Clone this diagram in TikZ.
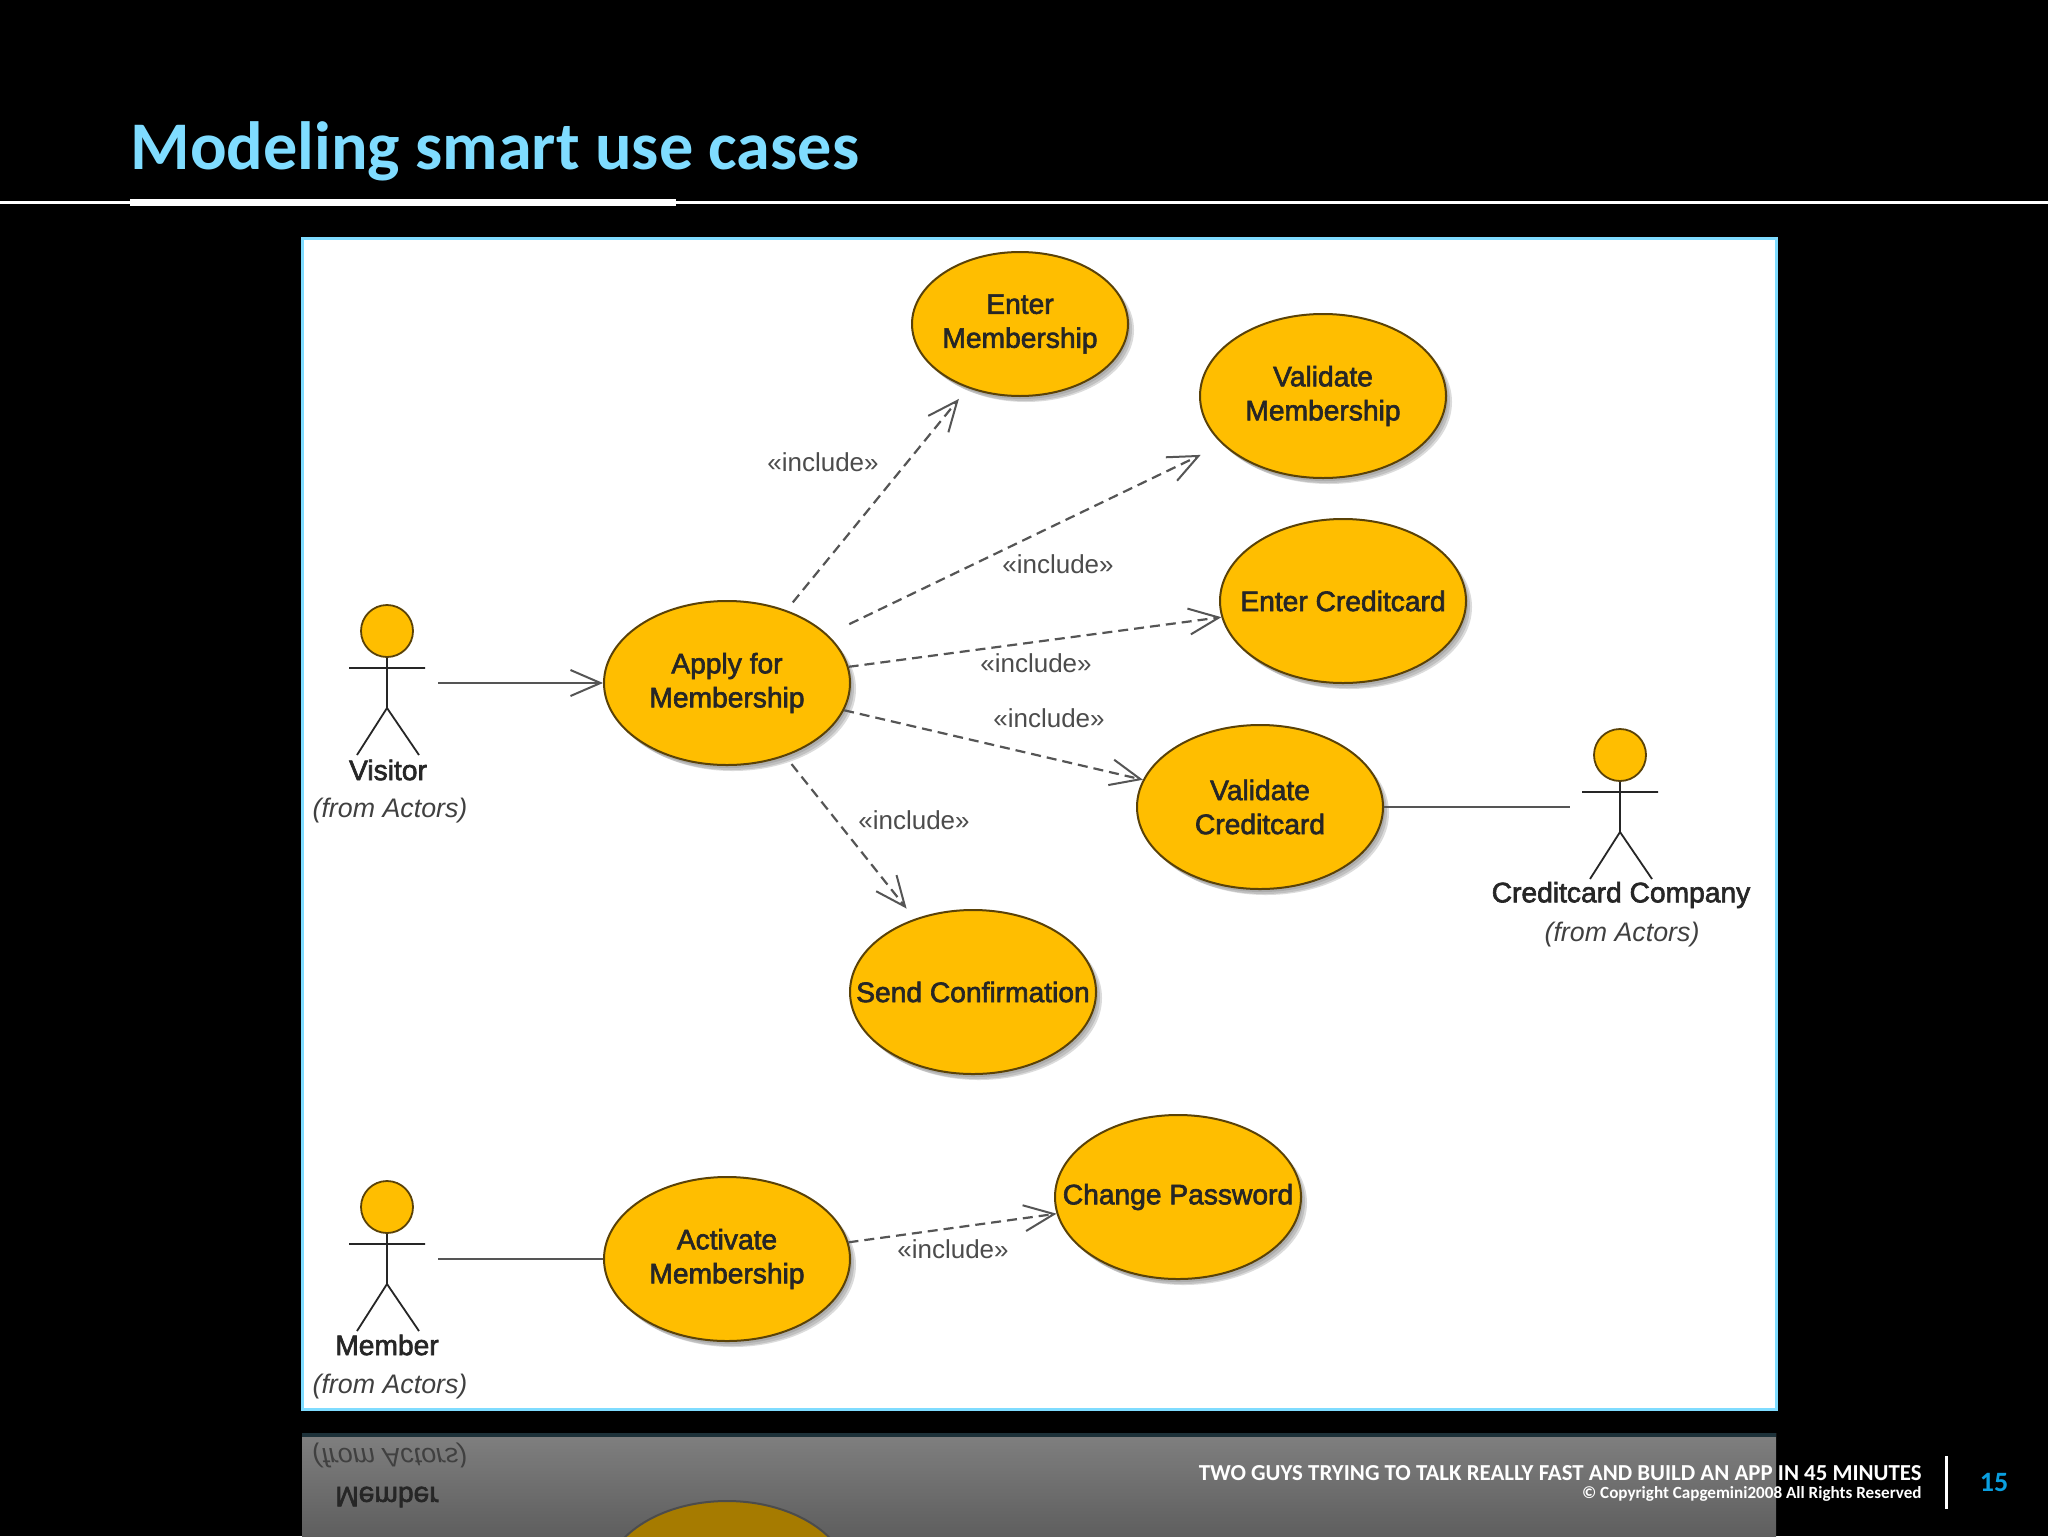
\documentclass[tikz,border=0pt]{standalone}
\usepackage{fontspec}
\setmainfont{Carlito}
\newfontfamily\umlfont[FakeBold=2.2]{Liberation Sans}
\newfontfamily\umlthin{Liberation Sans}
\usetikzlibrary{shapes.geometric,arrows.meta,shadows,calc}
\definecolor{ucfill}{HTML}{FFBE00}
\definecolor{ucline}{HTML}{5A4208}
\definecolor{frameblue}{HTML}{7FDCFF}
\definecolor{conn}{HTML}{555555}
\definecolor{pagenum}{HTML}{0A9FE0}
\newcommand{\oneline}[1]{\makebox[0pt][c]{#1}}
\tikzset{
  x=0.5pt,y=-0.5pt,
  softshadow/.style={
    general shadow={fill=black,draw=none,opacity=.10,shadow xshift=1pt,shadow yshift=-1.5pt},
    general shadow={fill=black,draw=none,opacity=.12,shadow xshift=2pt,shadow yshift=-2.5pt},
    general shadow={fill=black,draw=none,opacity=.14,shadow xshift=3pt,shadow yshift=-3pt}},
  usecase/.style={ellipse,draw=ucline,fill=ucfill,line width=1pt,inner sep=0pt,align=center,
    font=\umlfont\fontsize{14.1}{17}\selectfont,text=black!85,softshadow},
  smallcase/.style={usecase,minimum width=108pt,minimum height=72pt},
  bigcase/.style={usecase,minimum width=123pt,minimum height=82pt},
  stick/.style={draw=black!85,line width=0.9pt},
  actorhead/.style={circle,draw=ucline,fill=ucfill,line width=0.9pt,minimum size=26pt,inner sep=0pt},
  actor/.pic={
    \node[actorhead] (-head) at (0,0) {};
    \draw[stick] (-head.south) -- (0,77) (-38,37) -- (38,37) (-30,124) -- (0,77) -- (32,124);
  },
  actorname/.style={font=\umlfont\fontsize{14.1}{16}\selectfont,text=black!85,inner sep=0pt},
  actorfrom/.style={font=\umlthin\itshape\fontsize{13.4}{16}\selectfont,text=black!75,inner sep=0pt},
  inclabel/.style={font=\umlthin\fontsize{13}{16}\selectfont,text=black!70,inner sep=0pt},
  assoc/.style={draw=conn,line width=1.1pt},
  arrowassoc/.style={assoc,-{Straight Barb[length=15pt,width=13pt,line width=1pt]}},
  includes/.style={arrowassoc,dash pattern=on 5pt off 3pt},
}
\begin{document}
\begin{tikzpicture}
\fill[black] (0,0) rectangle (2048,1536);
% title and rules
\node[anchor=west,inner sep=0pt,text=frameblue,font=\bfseries\fontsize{34.1}{36}\selectfont] (title) at (130,151) {Modeling smart use cases};
\fill[white] (0,201) rectangle (2048,204);
\fill[white] (130,199) rectangle (676,206);
% picture
\draw[frameblue,line width=1.5pt,fill=white] (302,238) rectangle (1776,1409);
% reflection
\begin{scope}
  \clip (302,1433) rectangle (1776,1536);
  \shade[top color=black!50,bottom color=black!63] (302,1433) rectangle (1776,1536);
  \fill[black!68!frameblue!70!black] (302,1433) rectangle (1776,1437);
  \begin{scope}[shift={(0,2842)},yscale=-1]
    \node[ellipse,draw=black!70,fill=ucfill!65!black,line width=1pt,minimum width=123pt,minimum height=82pt,
      general shadow={fill=black,draw=none,opacity=.25,shadow xshift=3pt,shadow yshift=-3pt}] (mirroractivate) at (727,1259) {};
    \pic (mirrormember) at (387,1207) {actor};
    \node[actorname,transform shape] (mirrormembername) at (387,1345) {Member};
    \node[actorfrom,transform shape] (mirrormemberfrom) at (390,1387) {(from Actors)};
  \end{scope}
\end{scope}
% use cases
\node[smallcase] (entermember) at (1020,324) {Enter\\\oneline{Membership}};
\node[bigcase] (validatemember) at (1323,396) {Validate\\Membership};
\node[bigcase] (entercard) at (1343,601) {\oneline{Enter Creditcard}};
\node[bigcase] (validatecard) at (1260,807) {Validate\\Creditcard};
\node[bigcase] (apply) at (727,683) {Apply for\\Membership};
\node[bigcase] (confirm) at (973,992) {\oneline{Send Confirmation}};
\node[bigcase] (changepw) at (1178,1197) {\oneline{Change Password}};
\node[bigcase] (activate) at (727,1259) {Activate\\Membership};
% actors
\pic (visitor) at (387,631) {actor};
\node[actorname] (visitorname) at (388,770) {Visitor};
\node[actorfrom] (visitorfrom) at (390,811) {(from Actors)};
\pic (member) at (387,1207) {actor};
\node[actorname] (membername) at (387,1345) {Member};
\node[actorfrom] (memberfrom) at (390,1387) {(from Actors)};
\pic (company) at (1620,755) {actor};
\node[actorname] (companyname) at (1621,895) {Creditcard Company};
\node[actorfrom] (companyfrom) at (1622,935) {(from Actors)};
% connector ends beside the actors
\coordinate (visitorport) at (438,683);
\coordinate (memberport) at (438,1259);
\coordinate (companyport) at (1570,807);
% connectors
\draw[arrowassoc] (visitorport) -- (apply);
\draw[assoc] (memberport) -- (activate);
\draw[assoc] (validatecard) -- (companyport);
\draw[includes,shorten <=5pt,shorten >=7pt] (apply) -- (entermember);
\draw[includes,shorten <=12pt,shorten >=12pt] (apply) -- (validatemember);
\draw[includes] (apply) -- (entercard);
\draw[includes] (apply) -- (validatecard);
\draw[includes,shorten <=5pt,shorten >=6.5pt] (apply) -- (confirm);
\draw[includes] (activate) -- (changepw);
% labels
\node[inclabel] (inc1) at (823,462) {«include»};
\node[inclabel] (inc2) at (1058,564) {«include»};
\node[inclabel] (inc3) at (1036,663) {«include»};
\node[inclabel] (inc4) at (1049,718) {«include»};
\node[inclabel] (inc5) at (914,820) {«include»};
\node[inclabel] (inc6) at (953,1249) {«include»};
% footer
\node[anchor=east,inner sep=0pt,text=white,font=\bfseries\fontsize{11.43}{13}\selectfont] (footer) at (1922,1473) {TWO GUYS TRYING TO TALK REALLY FAST AND BUILD AN APP IN 45 MINUTES};
\node[anchor=east,inner sep=0pt,text=white,font=\bfseries\fontsize{8.55}{10}\selectfont] (copyright) at (1922,1494) {© Copyright Capgemini2008 All Rights Reserved};
\fill[white] (1945,1456) rectangle (1948,1509);
\node[inner sep=0pt,text=pagenum,font=\bfseries\fontsize{14}{16}\selectfont] (pageno) at (1994,1482) {15};
\end{tikzpicture}
\end{document}
